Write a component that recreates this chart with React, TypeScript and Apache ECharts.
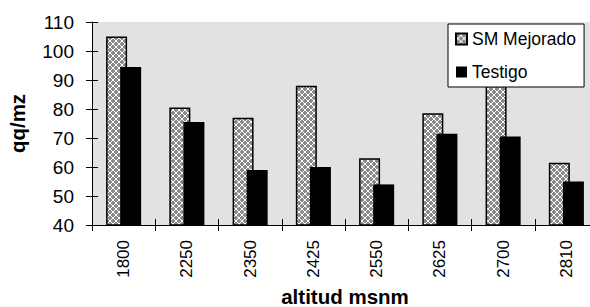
import React, { useEffect, useRef } from 'react';
import * as echarts from 'echarts';

const categories = ['1800', '2250', '2350', '2425', '2550', '2625', '2700', '2810'];
const smMejorado = [105, 80.5, 77, 88, 63, 78.5, 88, 61.5];
const testigo = [94.5, 75.5, 59, 60, 54, 71.5, 70.5, 55];
const yMin = 40;
const yMax = 110;
const yInterval = 10;

const FONT = "'Liberation Sans', Arial, sans-serif";

export default function App() {
  const ref = useRef<HTMLDivElement>(null);
  useEffect(() => {
    document.body.style.margin = '0';
    const chart = echarts.init(ref.current!, null, { renderer: 'svg' });
    const c = document.createElement('canvas');
    c.width = 6;
    c.height = 6;
    const ctx = c.getContext('2d')!;
    ctx.fillStyle = '#ffffff';
    ctx.fillRect(0, 0, 6, 6);
    ctx.fillStyle = '#8a8a8a';
    const grey = [[1, 2, 4, 5], [0, 1, 2, 3], [0, 1, 2, 3], [1, 2, 4, 5], [0, 3, 4, 5], [0, 3, 4, 5]];
    grey.forEach((cols, r) => cols.forEach((cc) => ctx.fillRect(cc, r, 1, 1)));

    chart.setOption({
      animation: false,
      textStyle: { fontFamily: FONT, color: '#000' },
      grid: {
        left: 92, top: 22, width: 506, height: 203,
        show: true, backgroundColor: '#e2e2e2', borderWidth: 0,
        containLabel: false,
        outerBoundsMode: 'none',
      },
      legend: {
        data: ['SM Mejorado', 'Testigo'],
        orient: 'vertical',
        left: 448, top: 24,
        padding: [6, 8, 6, 7],
        itemGap: 15,
        itemWidth: 11, itemHeight: 11,
        icon: 'rect',
        textStyle: { fontSize: 17.5, color: '#000', fontFamily: FONT },
        backgroundColor: '#fff',
        borderColor: '#000',
        borderWidth: 1,
      },
      xAxis: [
        {
          type: 'category', data: categories, position: 'bottom',
          axisLine: { show: true, lineStyle: { color: '#000', width: 1 } },
          axisTick: { show: true, inside: false, length: 6, alignWithLabel: false, lineStyle: { color: '#000' } },
          axisLabel: { rotate: 90, fontSize: 17, margin: 15, color: '#000', fontFamily: FONT },
          name: 'altitud msnm', nameLocation: 'middle', nameGap: 62,
          nameTextStyle: { fontSize: 20.5, lineHeight: 16, fontWeight: 'bold', color: '#000', fontFamily: FONT },
        },
        {
          type: 'category', data: categories, position: 'bottom', offset: 0,
          axisLine: { show: false },
          axisTick: { show: true, inside: true, length: 6, alignWithLabel: false, lineStyle: { color: '#000' } },
          axisLabel: { show: false },
        },
      ],
      yAxis: [
        {
          type: 'value', min: yMin, max: yMax, interval: yInterval, position: 'left',
          axisLine: { show: true, lineStyle: { color: '#000', width: 1 } },
          axisTick: { show: true, inside: false, length: 6, lineStyle: { color: '#000' } },
          axisLabel: { fontSize: 19, margin: 18, color: '#000', fontFamily: FONT },
          splitLine: { show: false },
          name: 'qq/mz', nameLocation: 'middle', nameGap: 64,
          nameTextStyle: { fontSize: 20.5, fontWeight: 'bold', color: '#000', fontFamily: FONT },
        },
        {
          type: 'value', min: yMin, max: yMax, interval: yInterval, position: 'left', offset: 0,
          axisLine: { show: false },
          axisTick: { show: true, inside: true, length: 6, lineStyle: { color: '#000' } },
          axisLabel: { show: false },
          splitLine: { show: false },
        },
      ],
      series: [
        {
          name: 'SM Mejorado', type: 'bar', data: smMejorado,
          xAxisIndex: 0, yAxisIndex: 0,
          barWidth: 21, barGap: '-33%',
          itemStyle: { color: { image: c, repeat: 'repeat' } as any, borderColor: '#000', borderWidth: 1.5 },
        },
        {
          name: 'Testigo', type: 'bar', data: testigo,
          xAxisIndex: 0, yAxisIndex: 0,
          barWidth: 21, barGap: '-33%',
          itemStyle: { color: '#000' },
        },
      ],
    });
    return () => chart.dispose();
  }, []);
  return <div ref={ref} style={{ width: 590, height: 307, position: 'absolute', left: 0, top: 0 }} />;
}
